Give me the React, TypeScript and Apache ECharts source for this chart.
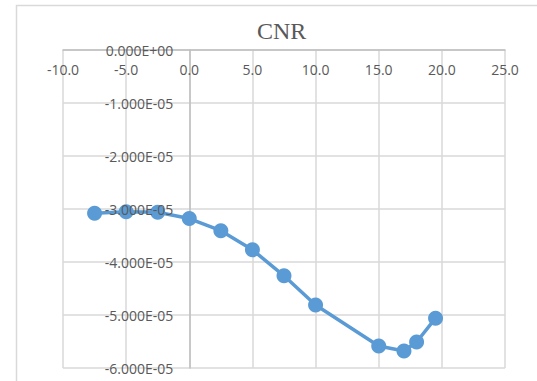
import React, { useEffect, useRef } from "react";
import * as echarts from "echarts";

// CNR readings against position
const positions = [-7.5, -5.0, -2.5, 0.0, 2.5, 5.0, 7.5, 10.0, 15.0, 17.0, 18.0, 19.5];
const cnrValues = [
  -3.08e-5, -3.05e-5, -3.06e-5, -3.18e-5, -3.41e-5, -3.77e-5,
  -4.26e-5, -4.81e-5, -5.585e-5, -5.68e-5, -5.51e-5, -5.06e-5,
];
const xRange = [-10, 25];
const yRange = [-6e-5, 0];

const LABEL_COLOR = "#595959";
const GRID_COLOR = "#d9d9d9";
const LINE_COLOR = "#5b9bd5";
const FONT = "'Open Sans', 'Noto Sans', sans-serif";

// plot box in pixels
const GRID_LEFT = 63;
const GRID_RIGHT = 32;
const GRID_TOP = 50;
const GRID_BOTTOM = 13;
const WIDTH = 537;
const HEIGHT = 381;

// Excel-style scientific label: -1.000E-05
function sci(v: number): string {
  if (Math.abs(v) < 1e-20) return "0.000E+00";
  const [mant, exp] = v.toExponential(3).split("e");
  const e = parseInt(exp, 10);
  const sign = e < 0 ? "-" : "+";
  const digits = String(Math.abs(e)).padStart(2, "0");
  return `${mant}E${sign}${digits}`;
}

export default function App() {
  const ref = useRef<HTMLDivElement>(null);

  useEffect(() => {
    if (!ref.current) return;
    const chart = echarts.init(ref.current, undefined, { renderer: "svg" });

    // axes cross at x = 0 and y = 0 (top edge of the plot)
    const plotW = WIDTH - GRID_LEFT - GRID_RIGHT;
    const plotH = HEIGHT - GRID_TOP - GRID_BOTTOM;
    const xZeroOffset = ((0 - xRange[0]) / (xRange[1] - xRange[0])) * plotW;
    const yZeroOffset = ((yRange[1] - 0) / (yRange[1] - yRange[0])) * plotH;

    const yBase = {
      type: "value",
      position: "left",
      offset: -xZeroOffset,
      min: yRange[0],
      max: yRange[1],
      interval: 1e-5,
      axisTick: { show: false },
    };

    chart.setOption({
      animation: false,
      backgroundColor: "#ffffff",
      title: {
        text: "CNR",
        left: 252,
        top: 14,
        textStyle: {
          fontFamily: "'Liberation Serif', serif",
          fontSize: 24,
          fontWeight: "normal",
          color: LABEL_COLOR,
        },
      },
      graphic: [
        {
          type: "rect",
          shape: { x: 16.5, y: 5.5, width: 600, height: 500 },
          style: { fill: "none", stroke: GRID_COLOR, lineWidth: 1.5 },
          silent: true,
        },
      ],
      grid: {
        left: GRID_LEFT,
        right: GRID_RIGHT,
        top: GRID_TOP,
        bottom: GRID_BOTTOM,
        containLabel: false,
        outerBoundsMode: "none",
      },
      xAxis: {
        type: "value",
        position: "bottom",
        offset: -(plotH - yZeroOffset),
        min: xRange[0],
        max: xRange[1],
        interval: 5,
        axisLine: { onZero: false, lineStyle: { color: "#bfbfbf", width: 1.5 } },
        axisTick: { show: false },
        axisLabel: {
          color: LABEL_COLOR,
          fontFamily: FONT,
          fontSize: 14,
          margin: 12,
          formatter: (v: number) => v.toFixed(1),
        },
        splitLine: { show: true, lineStyle: { color: GRID_COLOR, width: 1.5 } },
      },
      yAxis: [
        // gridlines and axis line, under the series
        {
          ...yBase,
          axisLine: { show: true, onZero: false, lineStyle: { color: "#bfbfbf", width: 1.5 } },
          axisLabel: { show: false },
          splitLine: { show: true, lineStyle: { color: GRID_COLOR, width: 1.5 } },
        },
        // tick labels, drawn above the series
        {
          ...yBase,
          z: 10,
          axisLine: { show: false, onZero: false },
          splitLine: { show: false },
          axisLabel: {
            color: LABEL_COLOR,
            fontFamily: FONT,
            fontSize: 14,
            margin: 16,
            formatter: (v: number) => sci(v),
          },
        },
      ],
      series: [
        {
          type: "line",
          yAxisIndex: 0,
          data: positions.map((x, i) => [x, cnrValues[i]]),
          symbol: "circle",
          symbolSize: 15,
          lineStyle: { color: LINE_COLOR, width: 3.5 },
          itemStyle: { color: LINE_COLOR },
        },
      ],
    });
    return () => chart.dispose();
  }, []);

  return (
    <div
      ref={ref}
      style={{ position: "fixed", left: 0, top: 0, width: WIDTH, height: HEIGHT }}
    />
  );
}
